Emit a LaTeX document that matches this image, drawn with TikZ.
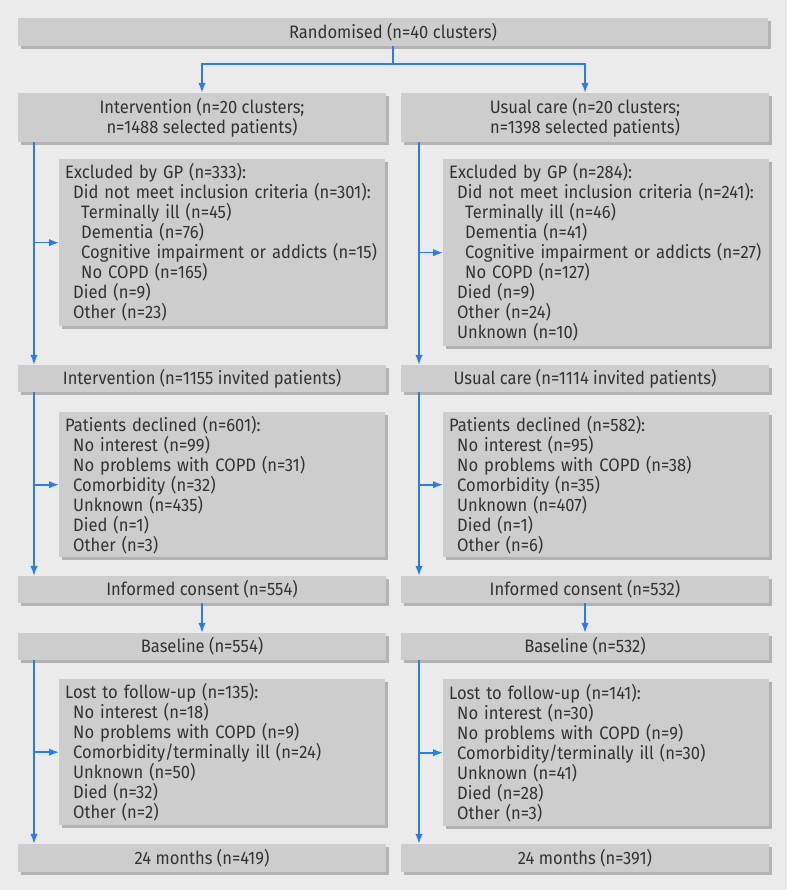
\documentclass[tikz,border=0pt]{standalone}
\usepackage{fontspec}
\setmainfont[FakeStretch=0.92]{Fira Sans}
\usepackage{xcolor}
\usetikzlibrary{arrows.meta,shadows}

\definecolor{pagebg}{HTML}{EBEBEB}
\definecolor{boxgray}{HTML}{CDCDCD}
\definecolor{boxshade}{HTML}{B3B3B3}
\definecolor{ink}{HTML}{333333}
\definecolor{flowblue}{HTML}{2A7DE6}

\newcommand{\lvone}{\hspace*{8pt}}
\newcommand{\lvtwo}{\hspace*{16pt}}

\begin{document}
\begin{tikzpicture}[
  x=1pt, y=-1pt,
  font=\fontsize{18}{20}\selectfont,
  box/.style={fill=boxgray, text=ink, inner sep=0pt,
    general shadow={fill=boxshade, shadow xshift=3pt, shadow yshift=-3pt}},
  main/.style={box, align=center, minimum width=368pt, minimum height=27pt},
  side/.style={box, anchor=north west, align=left,
    text width=314pt, inner xsep=6pt},
  ar/.style={-{Latex[length=10pt,width=7.5pt]}, line width=1.6pt, draw=flowblue}
]
\fill[pagebg] (0,0) rectangle (787,890);
\useasboundingbox (0,0) rectangle (787,890);

\node[main, minimum width=750pt, minimum height=28pt] (rand) at (393,32)
  {Randomised (n=40 clusters)};

\node[main, minimum height=49pt] (intL) at (202,117.5)
  {Intervention (n=20 clusters;\\n=1488 selected patients)};
\node[main, minimum height=49pt] (intR) at (585,117.5)
  {Usual care (n=20 clusters;\\n=1398 selected patients)};

\node[side, minimum height=167pt] (exclL) at (59,159)
  {Excluded by GP (n=333):\\
   \lvone Did not meet inclusion criteria (n=301):\\
   \lvtwo Terminally ill (n=45)\\
   \lvtwo Dementia (n=76)\\
   \lvtwo Cognitive impairment or addicts (n=15)\\
   \lvtwo No COPD (n=165)\\
   \lvone Died (n=9)\\
   \lvone Other (n=23)};
\node[side, minimum height=187pt] (exclR) at (443,159)
  {Excluded by GP (n=284):\\
   \lvone Did not meet inclusion criteria (n=241):\\
   \lvtwo Terminally ill (n=46)\\
   \lvtwo Dementia (n=41)\\
   \lvtwo Cognitive impairment or addicts (n=27)\\
   \lvtwo No COPD (n=127)\\
   \lvone Died (n=9)\\
   \lvone Other (n=24)\\
   \lvone Unknown (n=10)};

\node[main] (invL) at (202,378.5) {Intervention (n=1155 invited patients)};
\node[main] (invR) at (585,378.5) {Usual care (n=1114 invited patients)};

\node[side, minimum height=145pt] (declL) at (59,412)
  {Patients declined (n=601):\\
   \lvone No interest (n=99)\\
   \lvone No problems with COPD (n=31)\\
   \lvone Comorbidity (n=32)\\
   \lvone Unknown (n=435)\\
   \lvone Died (n=1)\\
   \lvone Other (n=3)};
\node[side, minimum height=145pt] (declR) at (443,412)
  {Patients declined (n=582):\\
   \lvone No interest (n=95)\\
   \lvone No problems with COPD (n=38)\\
   \lvone Comorbidity (n=35)\\
   \lvone Unknown (n=407)\\
   \lvone Died (n=1)\\
   \lvone Other (n=6)};

\node[main] (consL) at (202,589.5) {Informed consent (n=554)};
\node[main] (consR) at (585,589.5) {Informed consent (n=532)};

\node[main] (baseL) at (202,646.5) {Baseline (n=554)};
\node[main] (baseR) at (585,646.5) {Baseline (n=532)};

\node[side, minimum height=146pt] (lostL) at (59,679)
  {Lost to follow-up (n=135):\\
   \lvone No interest (n=18)\\
   \lvone No problems with COPD (n=9)\\
   \lvone Comorbidity/terminally ill (n=24)\\
   \lvone Unknown (n=50)\\
   \lvone Died (n=32)\\
   \lvone Other (n=2)};
\node[side, minimum height=147pt] (lostR) at (443,679)
  {Lost to follow-up (n=141):\\
   \lvone No interest (n=30)\\
   \lvone No problems with COPD (n=9)\\
   \lvone Comorbidity/terminally ill (n=30)\\
   \lvone Unknown (n=41)\\
   \lvone Died (n=28)\\
   \lvone Other (n=3)};

\node[main, minimum height=28pt] (monL) at (202,858) {24 months (n=419)};
\node[main, minimum height=28pt] (monR) at (585,858) {24 months (n=391)};

% trunk lines
\coordinate (tL) at (34,0);
\coordinate (tR) at (419,0);

\draw[ar] (rand.south) -- ++(0,18) -| (intL.north);
\draw[ar] (rand.south) -- ++(0,18) -| (intR.north);

\draw[ar] (tL |- intL.south) -- (tL |- invL.north);
\draw[ar] (tL |- exclL.west) -- (exclL.west);
\draw[ar] (tR |- intR.south) -- (tR |- invR.north);
\draw[ar] (tR |- exclR.west) -- (exclR.west);

\draw[ar] (tL |- invL.south) -- (tL |- consL.north);
\draw[ar] (tL |- declL.west) -- (declL.west);
\draw[ar] (tR |- invR.south) -- (tR |- consR.north);
\draw[ar] (tR |- declR.west) -- (declR.west);

\draw[ar] (consL) -- (baseL);
\draw[ar] (consR) -- (baseR);

\draw[ar] (tL |- baseL.south) -- (tL |- monL.north);
\draw[ar] (tL |- lostL.west) -- (lostL.west);
\draw[ar] (tR |- baseR.south) -- (tR |- monR.north);
\draw[ar] (tR |- lostR.west) -- (lostR.west);
\end{tikzpicture}
\end{document}
